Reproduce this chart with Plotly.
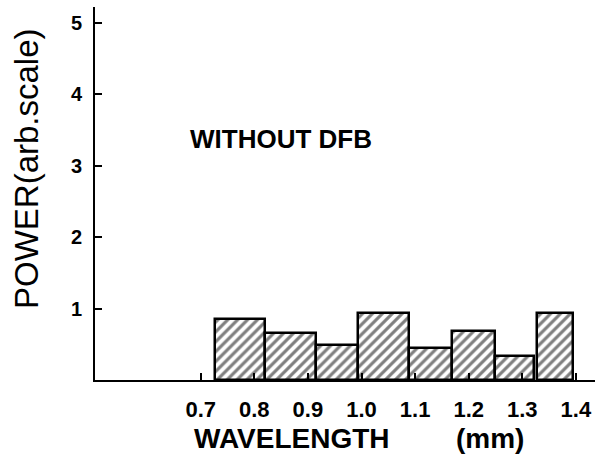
import plotly.graph_objects as go

# bin edges (wavelength, mm) and power (arb. scale)
bin_left = [0.727, 0.820, 0.915, 0.994, 1.089, 1.169, 1.249, 1.327]
bin_right = [0.820, 0.915, 0.994, 1.089, 1.169, 1.249, 1.322, 1.395]
power = [0.85, 0.66, 0.49, 0.94, 0.45, 0.69, 0.34, 0.94]

x_ticks = [0.7, 0.8, 0.9, 1.0, 1.1, 1.2, 1.3, 1.4]
x_ticklabels = ["0.7", "0.8", "0.9", "1.0", "1.1", "1.2", "1.3", "1.4"]
y_ticks = [1, 2, 3, 4, 5]

centers = [(a + b) / 2 for a, b in zip(bin_left, bin_right)]
widths = [b - a for a, b in zip(bin_left, bin_right)]

W, H = 599, 470
ML, MR, MT, MB = 95, 4, 7, 90
PW, PH = W - ML - MR, H - MT - MB


def px(xp):
    return (xp - ML) / PW


def py(yp):
    return (H - MB - yp) / PH


fig = go.Figure()
fig.add_trace(go.Bar(
    x=centers, y=power, width=widths,
    marker=dict(
        color="white",
        line=dict(color="black", width=2.5),
        pattern=dict(shape="/", fgcolor="black", bgcolor="white", size=7, solidity=0.45),
    ),
    showlegend=False,
    hoverinfo="skip",
))

font_family = "Liberation Sans, Arial, sans-serif"

fig.update_layout(
    width=W, height=H,
    margin=dict(l=ML, r=MR, t=MT, b=MB, autoexpand=False),
    plot_bgcolor="white", paper_bgcolor="white",
    bargap=0,
    font=dict(family=font_family, color="black"),
    xaxis=dict(
        range=[0.5028, 1.4356],
        tickvals=x_ticks, ticktext=x_ticklabels,
        ticks="inside", ticklen=7, tickwidth=1.5, tickcolor="black",
        showline=True, linecolor="black", linewidth=2,
        showgrid=False, zeroline=False, automargin=False,
        tickfont=dict(size=22, weight="bold", family=font_family),
        ticklabelstandoff=9,
    ),
    yaxis=dict(
        range=[0, 5.22],
        tickvals=y_ticks,
        ticks="inside", ticklen=7, tickwidth=1.5, tickcolor="black",
        showline=True, linecolor="black", linewidth=2,
        showgrid=False, zeroline=False, automargin=False,
        tickfont=dict(size=20, weight="bold", family=font_family),
        ticklabelstandoff=7,
    ),
    annotations=[
        dict(text="WITHOUT DFB", x=px(188), y=py(139), xref="paper", yref="paper",
             showarrow=False, xanchor="left", yanchor="middle",
             font=dict(size=26, weight="bold", family=font_family)),
        dict(text="POWER(arb.scale)", x=px(27), y=py(169), xref="paper", yref="paper",
             showarrow=False, textangle=-90, xanchor="center", yanchor="middle",
             font=dict(size=33, family=font_family)),
        dict(text="WAVELENGTH", x=px(291), y=py(438), xref="paper", yref="paper",
             showarrow=False, xanchor="center", yanchor="middle",
             font=dict(size=28, weight="bold", family=font_family)),
        dict(text="(mm)", x=px(490), y=py(438), xref="paper", yref="paper",
             showarrow=False, xanchor="center", yanchor="middle",
             font=dict(size=28, weight="bold", family=font_family)),
    ],
)

fig.write_html("out.html", config={"displayModeBar": False},
               post_script="document.body.style.margin='0';")
